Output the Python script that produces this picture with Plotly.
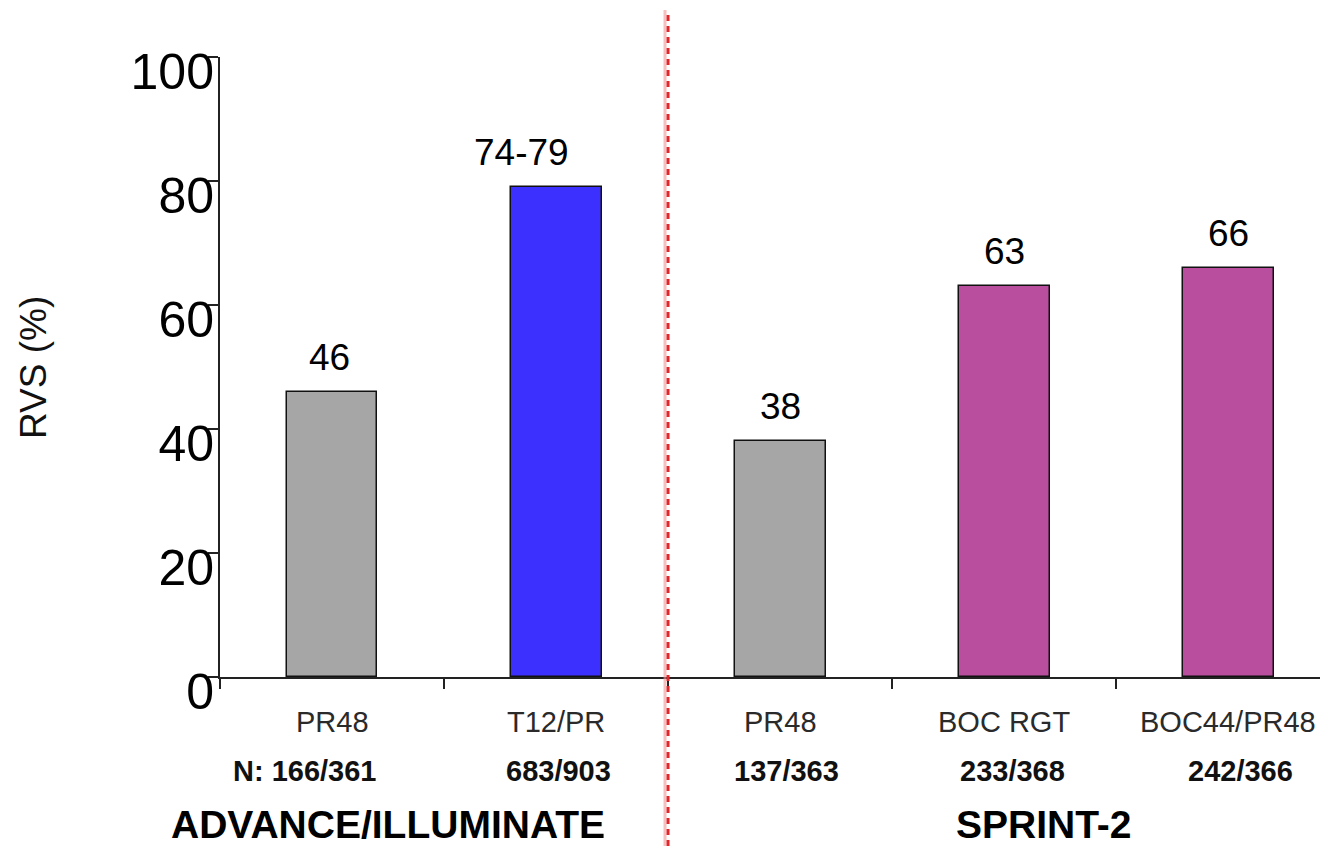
import plotly.graph_objects as go

categories = ["PR48", "T12/PR", "PR48", "BOC RGT", "BOC44/PR48"]
values = [46, 79, 38, 63, 66]
value_labels = ["46", "74-79", "38", "63", "66"]
n_labels = ["N: 166/361", "683/903", "137/363", "233/368", "242/366"]
groups = ["ADVANCE/ILLUMINATE", "SPRINT-2"]
group_x = [0.25, 3.18]
bar_colors = ["#A6A6A6", "#3C30FF", "#A6A6A6", "#B94E9E", "#B94E9E"]
y_ticks = [0, 20, 40, 60, 80, 100]

FONT = "Liberation Sans, Arial, sans-serif"
xs = list(range(len(categories)))

PA_H = 620.0  # plot area height in px (page y 57 .. 677)

fig = go.Figure()
fig.add_trace(go.Bar(
    x=xs, y=values, width=0.406,
    marker=dict(color=bar_colors, line=dict(color="#111111", width=1.5)),
    hoverinfo="skip", showlegend=False,
))
# invisible trace so the label-only overlay axis renders
fig.add_trace(go.Scatter(x=[0], y=[50], yaxis="y2", mode="markers",
                         marker=dict(opacity=0), hoverinfo="skip", showlegend=False))

def py(page_y):
    return (677.0 - page_y) / PA_H

annotations = []
v_shift = [-3, -35, 0, 0, 0]
for i, (v, t) in enumerate(zip(values, value_labels)):
    annotations.append(dict(x=i, y=v, xref="x", yref="y", text=t, showarrow=False,
                            yanchor="bottom", yshift=12, xshift=v_shift[i],
                            font=dict(family=FONT, size=37, color="#000000")))
for i, c in enumerate(categories):
    annotations.append(dict(x=i, y=py(722), xref="x", yref="paper", text=c, showarrow=False,
                            yanchor="middle",
                            font=dict(family=FONT, size=29, color="#2a2a2a")))
n_shift = [-27, 2, 6, 8, 12]
for i, t in enumerate(n_labels):
    annotations.append(dict(x=i, y=py(771), xref="x", yref="paper", text="<b>%s</b>" % t,
                            showarrow=False, yanchor="middle", xshift=n_shift[i],
                            font=dict(family=FONT, size=29, color="#111111")))
for gx, g in zip(group_x, groups):
    annotations.append(dict(x=gx, y=py(824), xref="x", yref="paper", text="<b>%s</b>" % g,
                            showarrow=False, yanchor="middle",
                            font=dict(family=FONT, size=39, color="#000000")))
annotations.append(dict(x=-0.1688, y=py(367), xref="paper", yref="paper", text="RVS (%)",
                        textangle=-90, showarrow=False, xanchor="center", yanchor="middle",
                        font=dict(family=FONT, size=37, color="#111111")))

px_unit = 1.0 / 224.0
shapes = [
    dict(type="line", xref="x", yref="paper", x0=1.5 - 3 * px_unit, x1=1.5 - 3 * px_unit,
         y0=py(846), y1=py(10), line=dict(color="rgba(240,150,150,0.6)", width=3)),
    dict(type="line", xref="x", yref="paper", x0=1.5, x1=1.5, y0=py(846), y1=py(10),
         line=dict(color="#E3262B", width=3, dash="6px,5px")),
]

fig.update_layout(
    width=1320, height=838,
    margin=dict(l=212, r=0, t=49, b=169, autoexpand=False),
    paper_bgcolor="white", plot_bgcolor="white",
    bargap=0,
    xaxis=dict(range=[-0.5, 4.446], tickmode="array",
               tickvals=[-0.5, 0.5, 1.5, 2.5, 3.5, 4.5], ticktext=[""] * 6,
               ticks="outside", ticklen=10, tickwidth=1.5, tickcolor="#222222",
               showline=True, linecolor="#222222", linewidth=1.5, automargin=False,
               showgrid=False, zeroline=False, fixedrange=True),
    yaxis=dict(range=[0, 100], tickvals=y_ticks, ticktext=[""] * len(y_ticks),
               automargin=False,
               ticks="outside", ticklen=10, tickwidth=1.5, tickcolor="#222222",
               showline=True, linecolor="#222222", linewidth=1.5,
               showgrid=False, zeroline=False),
    yaxis2=dict(range=[0, 100], overlaying="y", side="left", anchor="x",
                tickvals=y_ticks, ticks="", showline=False, showgrid=False,
                zeroline=False, ticklabelstandoff=5, ticklabelshift=14,
                automargin=False,
                tickfont=dict(family=FONT, size=50, color="#000000")),
    annotations=annotations,
    shapes=shapes,
)

fig.write_html("out.html")
